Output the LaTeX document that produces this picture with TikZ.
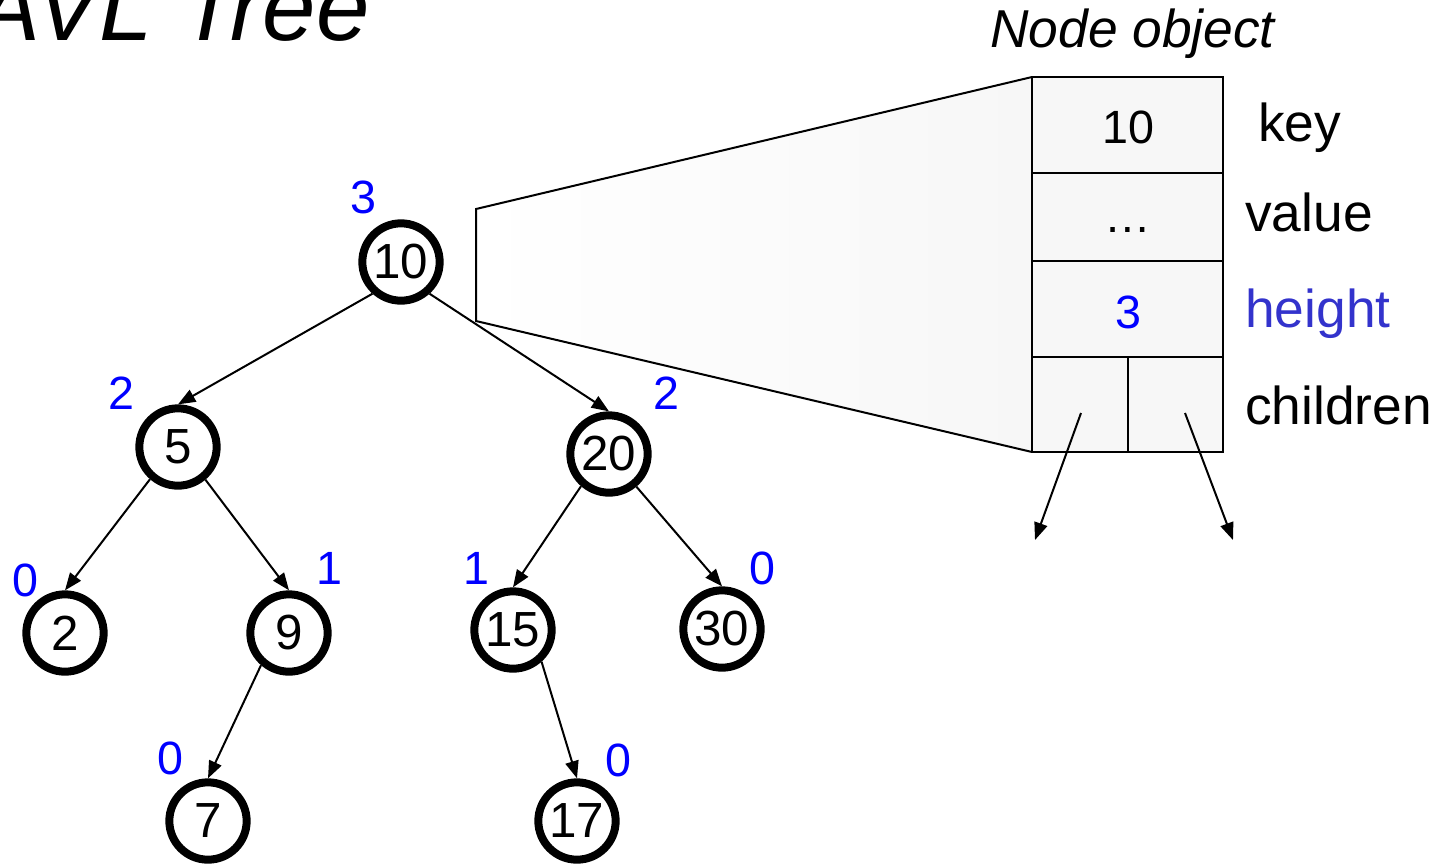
\documentclass[tikz,border=0pt]{standalone}
\usepackage{fontspec}
\setmainfont{Liberation Sans}
\usetikzlibrary{arrows.meta}
\definecolor{hblue}{RGB}{0,0,255}
\definecolor{lblue}{RGB}{51,51,204}
\definecolor{boxfill}{RGB}{247,247,247}

\begin{document}
\begin{tikzpicture}[x=0.75pt,y=-0.75pt,
  treenode/.style={circle,draw,line width=6pt,fill=white,minimum size=58pt,
    inner sep=0pt,font=\fontsize{37}{44}\selectfont},
  hlabel/.style={text=hblue,font=\fontsize{35}{42}\selectfont,inner sep=0pt},
  edge/.style={line width=1.5pt,-{Triangle[length=13pt,width=10pt]}},
  cellline/.style={line width=1.5pt},
  field/.style={font=\fontsize{40}{48}\selectfont,anchor=base west,inner sep=0pt},
  celltext/.style={font=\fontsize{35}{42}\selectfont,inner sep=0pt}]
\useasboundingbox (0,0) rectangle (1447,865);

% title
\node[anchor=base west,inner sep=0pt,font=\fontsize{72}{80}\selectfont\itshape]
  (title) at (-24,40) {AVL Tree};

% magnifying funnel from the root to the record
\shade[left color=white,right color=boxfill]
  (476,209) -- (1032,77) -- (1032,452) -- (476,321) -- cycle;
\draw[cellline] (1032,77) -- (476,209) -- (476,321) -- (1032,452);

% the node record
\filldraw[cellline,fill=boxfill] (1032,77) rectangle (1223,452);
\draw[cellline] (1032,173) -- (1223,173)
                (1032,261) -- (1223,261)
                (1032,357) -- (1223,357)
                (1128,357) -- (1128,452);
\node[celltext] (keyval) at (1128,127) {10};
\node[celltext,anchor=base] (valval) at (1128,232) {…};
\node[celltext,text=hblue] (hval) at (1128,312) {3};

\node[field,font=\fontsize{40}{48}\selectfont\itshape] (nodeobj) at (990,47) {Node object};
\node[field] (fkey) at (1258,141) {key};
\node[field] (fvalue) at (1245,231) {value};
\node[field,text=lblue] (fheight) at (1245,327) {height};
\node[field] (fchildren) at (1245,424) {children};

% child pointers
\coordinate (lp) at (1081,413);
\coordinate (lq) at (1035,540);
\coordinate (rp) at (1185,413);
\coordinate (rq) at (1233,540);
\draw[edge] (lp) -- (lq);
\draw[edge] (rp) -- (rq);

% tree nodes
\node[treenode] (n10) at (401,262) {10};
\node[treenode] (n5)  at (178,447) {5};
\node[treenode] (n20) at (609,454) {20};
\node[treenode] (n2)  at (65,633)  {2};
\node[treenode] (n9)  at (289,633) {9};
\node[treenode] (n15) at (513,630) {15};
\node[treenode] (n30) at (722,629) {30};
\node[treenode] (n7)  at (208,821) {7};
\node[treenode] (n17) at (577,821) {17};

% edges
\draw[edge] (n10.-132) -- (n5.north);
\draw[edge] (n10.-48)  -- (n20.north);
\draw[edge] (n5.-131)  -- (n2.north);
\draw[edge] (n5.-50)   -- (n9.north);
\draw[edge] (n20.-131) -- (n15.north);
\draw[edge] (n20.-50)  -- (n30.north);
\draw[edge] (n9.-131)  -- (n7.north);
\draw[edge] (n15.-48)  -- (n17.north);

% heights
\node[hlabel] (h10) at (363,197) {3};
\node[hlabel] (h5)  at (121,393) {2};
\node[hlabel] (h20) at (666,393) {2};
\node[hlabel] (h2)  at (25,580)  {0};
\node[hlabel] (h9)  at (329,568) {1};
\node[hlabel] (h15) at (476,568) {1};
\node[hlabel] (h30) at (762,568) {0};
\node[hlabel] (h7)  at (170,758) {0};
\node[hlabel] (h17) at (618,760) {0};
\end{tikzpicture}
\end{document}
